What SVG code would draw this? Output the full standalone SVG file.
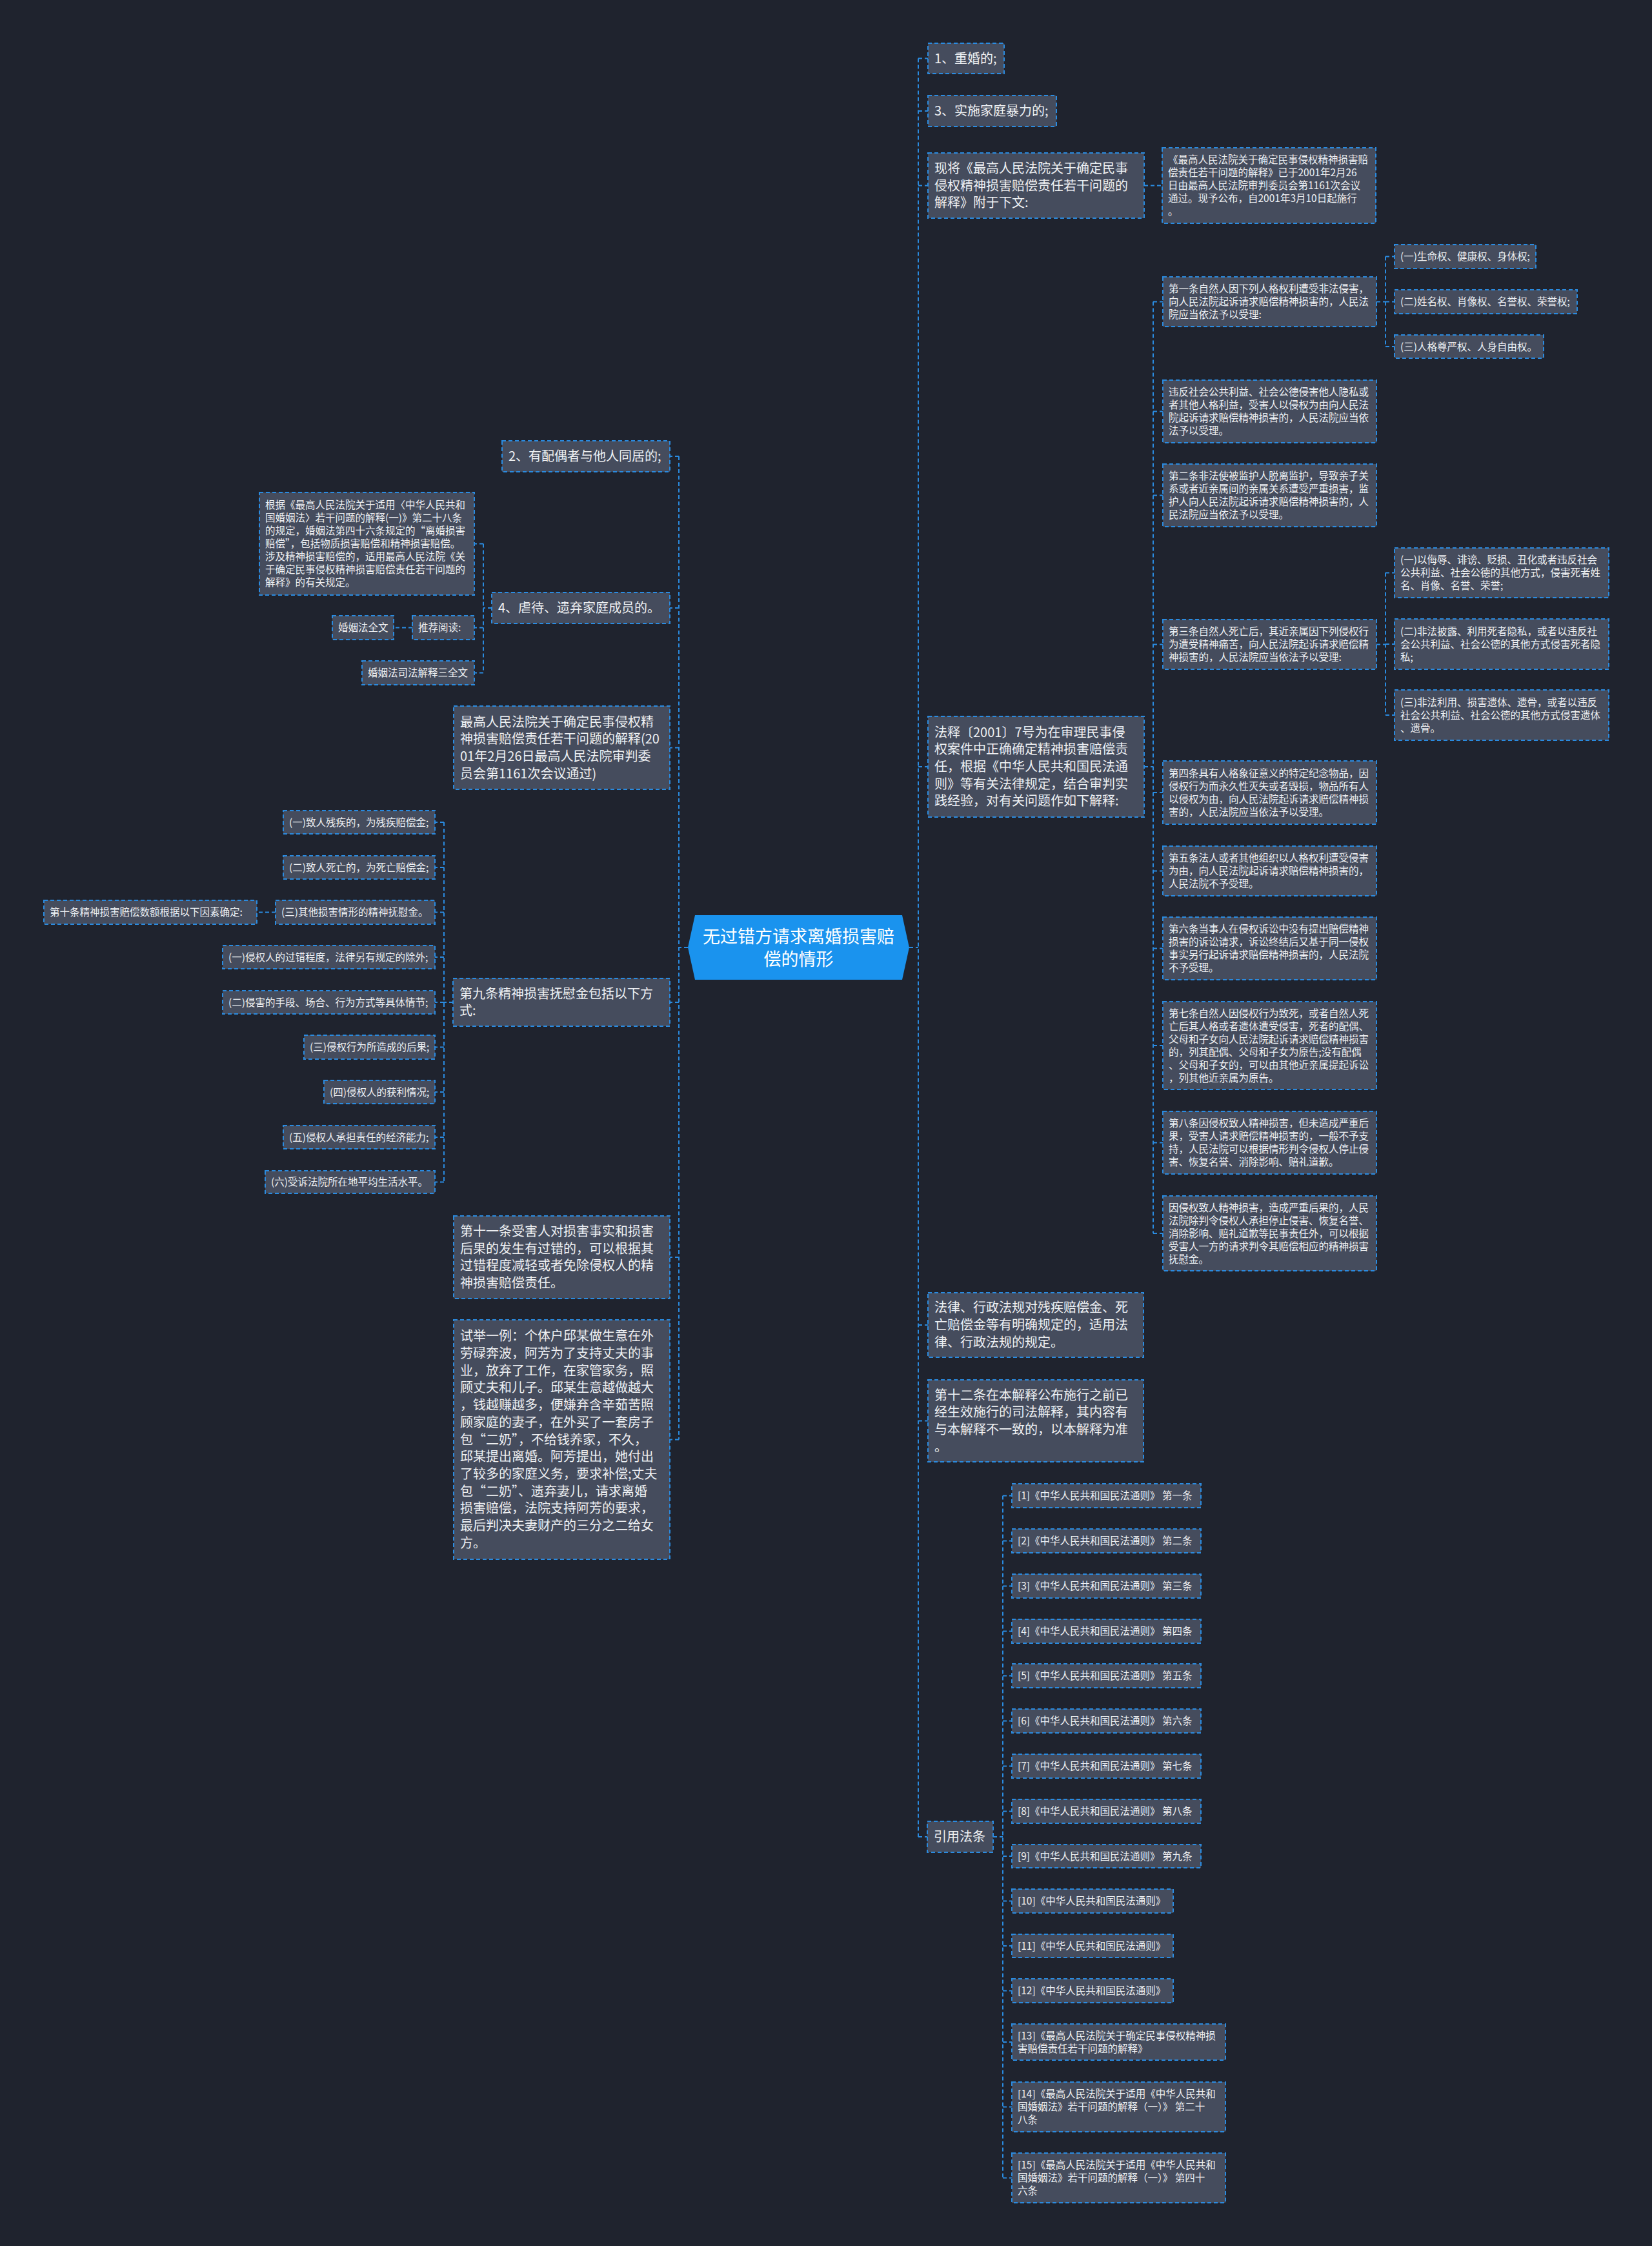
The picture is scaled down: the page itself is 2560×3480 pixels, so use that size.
<svg xmlns="http://www.w3.org/2000/svg" width="2560" height="3480" viewBox="0 0 2560 3480">
<style>
.bg{fill:#1f232e}
.n rect{fill:#454c5d;stroke:#2a8be0;stroke-width:2;stroke-dasharray:6 4}
.c path{fill:none;stroke:#2a8be0;stroke-width:2;stroke-dasharray:6 4}
text{font-family:"Noto Sans CJK SC","Noto Sans",sans-serif;fill:#eef0f3}
.m{font-size:20px}
.s{font-size:15.5px}
.t{font-size:27px;fill:#ffffff}
</style>
<rect class="bg" x="0" y="0" width="2560" height="3480"/>
<g id="connectors" class="c">
<path d="M1409 1468H1423M1423 90.5V2846M1423 90.5H1438M1423 172H1438M1423 287.5H1438M1423 1188H1438M1423 2053H1438M1423 2201.5H1438M1423 2846H1437"/>
<path d="M1773 287.5H1801"/>
<path d="M1773 1188H1787M1787 467.5V1911M1787 467.5H1802M1787 637.5H1802M1787 767.5H1802M1787 998.5H1802M1787 1228H1802M1787 1349.5H1802M1787 1469.5H1802M1787 1620H1802M1787 1770.5H1802M1787 1911H1802"/>
<path d="M2133 467.5H2147M2147 397.5V537M2147 397.5H2161M2147 467.5H2161M2147 537H2161"/>
<path d="M2133 998.5H2147M2147 887.5V1108M2147 887.5H2161M2147 998H2161M2147 1108H2161"/>
<path d="M1539 2846H1554M1554 2317.5V3374.5M1554 2317.5H1568M1554 2387.5H1568M1554 2457.5H1568M1554 2527.5H1568M1554 2596.5H1568M1554 2666.5H1568M1554 2736.5H1568M1554 2806.5H1568M1554 2876H1568M1554 2945.5H1568M1554 3015H1568M1554 3084.5H1568M1554 3164H1568M1554 3264.5H1568M1554 3374.5H1568"/>
<path d="M1066 1468H1052M1052 707V2230.5M1052 707H1038M1052 942H1038M1052 1158.5H1038M1052 1553H1038M1052 1948H1038M1052 2230.5H1038"/>
<path d="M762 942H749M749 842.5V1042.5M749 842.5H735M749 972.5H735M749 1042.5H735"/>
<path d="M639 972.5H610"/>
<path d="M702 1553H688M688 1274V1831.5M688 1274H674M688 1344H674M688 1413.5H674M688 1483H674M688 1553H674M688 1622.5H674M688 1692H674M688 1762H674M688 1831.5H674"/>
<path d="M427 1413.5H398"/>
</g>
<g id="center">
<polygon points="1066,1468 1077,1418 1398,1418 1409,1468 1398,1518 1077,1518" fill="#1a93ee"/>
<text class="t" text-anchor="middle"><tspan x="1237.5" y="1460.5">无过错方请求离婚损害赔</tspan><tspan x="1237.5" y="1495.5">偿的情形</tspan></text>
</g>
<g id="n-r1" class="n"><rect x="1438" y="67" width="118" height="47"/><text class="m"><tspan x="1448" y="97.5">1、重婚的;</tspan></text></g>
<g id="n-r3" class="n"><rect x="1438" y="148" width="199" height="48"/><text class="m"><tspan x="1448" y="179">3、实施家庭暴力的;</tspan></text></g>
<g id="n-xj" class="n"><rect x="1438" y="237" width="335" height="101"/><text class="m"><tspan x="1448" y="267.8">现将《最高人民法院关于确定民事</tspan><tspan x="1448" y="294.5">侵权精神损害赔偿责任若干问题的</tspan><tspan x="1448" y="321.2">解释》附于下文:</tspan></text></g>
<g id="n-xj1" class="n"><rect x="1801" y="229" width="331" height="117"/><text class="s"><tspan x="1810" y="253">《最高人民法院关于确定民事侵权精神损害赔</tspan><tspan x="1810" y="273">偿责任若干问题的解释》已于2001年2月26</tspan><tspan x="1810" y="293">日由最高人民法院审判委员会第1161次会议</tspan><tspan x="1810" y="313">通过。现予公布，自2001年3月10日起施行</tspan><tspan x="1810" y="333">。</tspan></text></g>
<g id="n-fs" class="n"><rect x="1438" y="1110" width="335" height="156"/><text class="m"><tspan x="1448" y="1141.6">法释〔2001〕7号为在审理民事侵</tspan><tspan x="1448" y="1168.3">权案件中正确确定精神损害赔偿责</tspan><tspan x="1448" y="1195">任，根据《中华人民共和国民法通</tspan><tspan x="1448" y="1221.7">则》等有关法律规定，结合审判实</tspan><tspan x="1448" y="1248.4">践经验，对有关问题作如下解释:</tspan></text></g>
<g id="n-a1" class="n"><rect x="1802" y="429" width="331" height="77"/><text class="s"><tspan x="1811" y="453">第一条自然人因下列人格权利遭受非法侵害，</tspan><tspan x="1811" y="473">向人民法院起诉请求赔偿精神损害的，人民法</tspan><tspan x="1811" y="493">院应当依法予以受理:</tspan></text></g>
<g id="n-a1-1" class="n"><rect x="2161" y="379" width="219" height="37"/><text class="s"><tspan x="2170" y="403">(一)生命权、健康权、身体权;</tspan></text></g>
<g id="n-a1-2" class="n"><rect x="2161" y="449" width="283" height="37"/><text class="s"><tspan x="2170" y="473">(二)姓名权、肖像权、名誉权、荣誉权;</tspan></text></g>
<g id="n-a1-3" class="n"><rect x="2161" y="519" width="231" height="36"/><text class="s"><tspan x="2170" y="542.5">(三)人格尊严权、人身自由权。</tspan></text></g>
<g id="n-wf" class="n"><rect x="1802" y="589" width="331" height="97"/><text class="s"><tspan x="1811" y="613">违反社会公共利益、社会公德侵害他人隐私或</tspan><tspan x="1811" y="633">者其他人格利益，受害人以侵权为由向人民法</tspan><tspan x="1811" y="653">院起诉请求赔偿精神损害的，人民法院应当依</tspan><tspan x="1811" y="673">法予以受理。</tspan></text></g>
<g id="n-a2" class="n"><rect x="1802" y="719" width="331" height="97"/><text class="s"><tspan x="1811" y="743">第二条非法使被监护人脱离监护，导致亲子关</tspan><tspan x="1811" y="763">系或者近亲属间的亲属关系遭受严重损害，监</tspan><tspan x="1811" y="783">护人向人民法院起诉请求赔偿精神损害的，人</tspan><tspan x="1811" y="803">民法院应当依法予以受理。</tspan></text></g>
<g id="n-a3" class="n"><rect x="1802" y="960" width="331" height="77"/><text class="s"><tspan x="1811" y="984">第三条自然人死亡后，其近亲属因下列侵权行</tspan><tspan x="1811" y="1004">为遭受精神痛苦，向人民法院起诉请求赔偿精</tspan><tspan x="1811" y="1024">神损害的，人民法院应当依法予以受理:</tspan></text></g>
<g id="n-a3-1" class="n"><rect x="2161" y="849" width="332" height="77"/><text class="s"><tspan x="2170" y="873">(一)以侮辱、诽谤、贬损、丑化或者违反社会</tspan><tspan x="2170" y="893">公共利益、社会公德的其他方式，侵害死者姓</tspan><tspan x="2170" y="913">名、肖像、名誉、荣誉;</tspan></text></g>
<g id="n-a3-2" class="n"><rect x="2161" y="959" width="332" height="78"/><text class="s"><tspan x="2170" y="983.5">(二)非法披露、利用死者隐私，或者以违反社</tspan><tspan x="2170" y="1003.5">会公共利益、社会公德的其他方式侵害死者隐</tspan><tspan x="2170" y="1023.5">私;</tspan></text></g>
<g id="n-a3-3" class="n"><rect x="2161" y="1069" width="332" height="78"/><text class="s"><tspan x="2170" y="1093.5">(三)非法利用、损害遗体、遗骨，或者以违反</tspan><tspan x="2170" y="1113.5">社会公共利益、社会公德的其他方式侵害遗体</tspan><tspan x="2170" y="1133.5">、遗骨。</tspan></text></g>
<g id="n-a4" class="n"><rect x="1802" y="1179" width="331" height="98"/><text class="s"><tspan x="1811" y="1203.5">第四条具有人格象征意义的特定纪念物品，因</tspan><tspan x="1811" y="1223.5">侵权行为而永久性灭失或者毁损，物品所有人</tspan><tspan x="1811" y="1243.5">以侵权为由，向人民法院起诉请求赔偿精神损</tspan><tspan x="1811" y="1263.5">害的，人民法院应当依法予以受理。</tspan></text></g>
<g id="n-a5" class="n"><rect x="1802" y="1311" width="331" height="77"/><text class="s"><tspan x="1811" y="1335">第五条法人或者其他组织以人格权利遭受侵害</tspan><tspan x="1811" y="1355">为由，向人民法院起诉请求赔偿精神损害的，</tspan><tspan x="1811" y="1375">人民法院不予受理。</tspan></text></g>
<g id="n-a6" class="n"><rect x="1802" y="1421" width="331" height="97"/><text class="s"><tspan x="1811" y="1445">第六条当事人在侵权诉讼中没有提出赔偿精神</tspan><tspan x="1811" y="1465">损害的诉讼请求，诉讼终结后又基于同一侵权</tspan><tspan x="1811" y="1485">事实另行起诉请求赔偿精神损害的，人民法院</tspan><tspan x="1811" y="1505">不予受理。</tspan></text></g>
<g id="n-a7" class="n"><rect x="1802" y="1552" width="331" height="136"/><text class="s"><tspan x="1811" y="1575.5">第七条自然人因侵权行为致死，或者自然人死</tspan><tspan x="1811" y="1595.5">亡后其人格或者遗体遭受侵害，死者的配偶、</tspan><tspan x="1811" y="1615.5">父母和子女向人民法院起诉请求赔偿精神损害</tspan><tspan x="1811" y="1635.5">的，列其配偶、父母和子女为原告;没有配偶</tspan><tspan x="1811" y="1655.5">、父母和子女的，可以由其他近亲属提起诉讼</tspan><tspan x="1811" y="1675.5">，列其他近亲属为原告。</tspan></text></g>
<g id="n-a8" class="n"><rect x="1802" y="1722" width="331" height="97"/><text class="s"><tspan x="1811" y="1746">第八条因侵权致人精神损害，但未造成严重后</tspan><tspan x="1811" y="1766">果，受害人请求赔偿精神损害的，一般不予支</tspan><tspan x="1811" y="1786">持，人民法院可以根据情形判令侵权人停止侵</tspan><tspan x="1811" y="1806">害、恢复名誉、消除影响、赔礼道歉。</tspan></text></g>
<g id="n-a8b" class="n"><rect x="1802" y="1853" width="331" height="116"/><text class="s"><tspan x="1811" y="1876.5">因侵权致人精神损害，造成严重后果的，人民</tspan><tspan x="1811" y="1896.5">法院除判令侵权人承担停止侵害、恢复名誉、</tspan><tspan x="1811" y="1916.5">消除影响、赔礼道歉等民事责任外，可以根据</tspan><tspan x="1811" y="1936.5">受害人一方的请求判令其赔偿相应的精神损害</tspan><tspan x="1811" y="1956.5">抚慰金。</tspan></text></g>
<g id="n-fl" class="n"><rect x="1438" y="2003" width="334" height="100"/><text class="m"><tspan x="1448" y="2033.3">法律、行政法规对残疾赔偿金、死</tspan><tspan x="1448" y="2060">亡赔偿金等有明确规定的，适用法</tspan><tspan x="1448" y="2086.7">律、行政法规的规定。</tspan></text></g>
<g id="n-a12" class="n"><rect x="1438" y="2138" width="334" height="127"/><text class="m"><tspan x="1448" y="2168.5">第十二条在本解释公布施行之前已</tspan><tspan x="1448" y="2195.2">经生效施行的司法解释，其内容有</tspan><tspan x="1448" y="2221.9">与本解释不一致的，以本解释为准</tspan><tspan x="1448" y="2248.6">。</tspan></text></g>
<g id="n-yy" class="n"><rect x="1437" y="2822" width="102" height="48"/><text class="m"><tspan x="1447" y="2853">引用法条</tspan></text></g>
<g id="ref1" class="n"><rect x="1568" y="2299" width="293" height="37"/><text class="s"><tspan x="1577" y="2323">[1]《中华人民共和国民法通则》 第一条</tspan></text></g>
<g id="ref2" class="n"><rect x="1568" y="2369" width="293" height="37"/><text class="s"><tspan x="1577" y="2393">[2]《中华人民共和国民法通则》 第二条</tspan></text></g>
<g id="ref3" class="n"><rect x="1568" y="2439" width="293" height="37"/><text class="s"><tspan x="1577" y="2463">[3]《中华人民共和国民法通则》 第三条</tspan></text></g>
<g id="ref4" class="n"><rect x="1568" y="2509" width="293" height="37"/><text class="s"><tspan x="1577" y="2533">[4]《中华人民共和国民法通则》 第四条</tspan></text></g>
<g id="ref5" class="n"><rect x="1568" y="2578" width="293" height="37"/><text class="s"><tspan x="1577" y="2602">[5]《中华人民共和国民法通则》 第五条</tspan></text></g>
<g id="ref6" class="n"><rect x="1568" y="2648" width="293" height="37"/><text class="s"><tspan x="1577" y="2672">[6]《中华人民共和国民法通则》 第六条</tspan></text></g>
<g id="ref7" class="n"><rect x="1568" y="2718" width="293" height="37"/><text class="s"><tspan x="1577" y="2742">[7]《中华人民共和国民法通则》 第七条</tspan></text></g>
<g id="ref8" class="n"><rect x="1568" y="2788" width="293" height="37"/><text class="s"><tspan x="1577" y="2812">[8]《中华人民共和国民法通则》 第八条</tspan></text></g>
<g id="ref9" class="n"><rect x="1568" y="2858" width="293" height="36"/><text class="s"><tspan x="1577" y="2881.5">[9]《中华人民共和国民法通则》 第九条</tspan></text></g>
<g id="ref10" class="n"><rect x="1568" y="2927" width="250" height="37"/><text class="s"><tspan x="1577" y="2951">[10]《中华人民共和国民法通则》</tspan></text></g>
<g id="ref11" class="n"><rect x="1568" y="2997" width="250" height="36"/><text class="s"><tspan x="1577" y="3020.5">[11]《中华人民共和国民法通则》</tspan></text></g>
<g id="ref12" class="n"><rect x="1568" y="3066" width="250" height="37"/><text class="s"><tspan x="1577" y="3090">[12]《中华人民共和国民法通则》</tspan></text></g>
<g id="ref13" class="n"><rect x="1568" y="3136" width="331" height="56"/><text class="s"><tspan x="1577" y="3159.5">[13]《最高人民法院关于确定民事侵权精神损</tspan><tspan x="1577" y="3179.5">害赔偿责任若干问题的解释》</tspan></text></g>
<g id="ref14" class="n"><rect x="1568" y="3226" width="331" height="77"/><text class="s"><tspan x="1577" y="3250">[14]《最高人民法院关于适用《中华人民共和</tspan><tspan x="1577" y="3270">国婚姻法》若干问题的解释（一）》 第二十</tspan><tspan x="1577" y="3290">八条</tspan></text></g>
<g id="ref15" class="n"><rect x="1568" y="3336" width="331" height="77"/><text class="s"><tspan x="1577" y="3360">[15]《最高人民法院关于适用《中华人民共和</tspan><tspan x="1577" y="3380">国婚姻法》若干问题的解释（一）》 第四十</tspan><tspan x="1577" y="3400">六条</tspan></text></g>
<g id="n-l2" class="n"><rect x="778" y="683" width="260" height="48"/><text class="m"><tspan x="788" y="714">2、有配偶者与他人同居的;</tspan></text></g>
<g id="n-l4" class="n"><rect x="762" y="918" width="276" height="48"/><text class="m"><tspan x="772" y="949">4、虐待、遗弃家庭成员的。</tspan></text></g>
<g id="n-gj" class="n"><rect x="402" y="763" width="333" height="159"/><text class="s"><tspan x="411" y="788">根据《最高人民法院关于适用〈中华人民共和</tspan><tspan x="411" y="808">国婚姻法〉若干问题的解释(一)》第二十八条</tspan><tspan x="411" y="828">的规定，婚姻法第四十六条规定的“离婚损害</tspan><tspan x="411" y="848">赔偿”，包括物质损害赔偿和精神损害赔偿。</tspan><tspan x="411" y="868">涉及精神损害赔偿的，适用最高人民法院《关</tspan><tspan x="411" y="888">于确定民事侵权精神损害赔偿责任若干问题的</tspan><tspan x="411" y="908">解释》的有关规定。</tspan></text></g>
<g id="n-tj" class="n"><rect x="639" y="954" width="96" height="37"/><text class="s"><tspan x="648" y="978">推荐阅读:</tspan></text></g>
<g id="n-hy" class="n"><rect x="515" y="954" width="95" height="37"/><text class="s"><tspan x="524" y="978">婚姻法全文</tspan></text></g>
<g id="n-hy3" class="n"><rect x="561" y="1024" width="174" height="37"/><text class="s"><tspan x="570" y="1048">婚姻法司法解释三全文</tspan></text></g>
<g id="n-zg" class="n"><rect x="703" y="1094" width="335" height="129"/><text class="m"><tspan x="713" y="1125.5">最高人民法院关于确定民事侵权精</tspan><tspan x="713" y="1152.2">神损害赔偿责任若干问题的解释(20</tspan><tspan x="713" y="1178.9">01年2月26日最高人民法院审判委</tspan><tspan x="713" y="1205.6">员会第1161次会议通过)</tspan></text></g>
<g id="n-a9" class="n"><rect x="702" y="1516" width="336" height="74"/><text class="m"><tspan x="712" y="1546.7">第九条精神损害抚慰金包括以下方</tspan><tspan x="712" y="1573.4">式:</tspan></text></g>
<g id="n-a9-1" class="n"><rect x="439" y="1256" width="235" height="36"/><text class="s"><tspan x="448" y="1279.5">(一)致人残疾的，为残疾赔偿金;</tspan></text></g>
<g id="n-a9-2" class="n"><rect x="439" y="1326" width="235" height="36"/><text class="s"><tspan x="448" y="1349.5">(二)致人死亡的，为死亡赔偿金;</tspan></text></g>
<g id="n-a9-3" class="n"><rect x="427" y="1395" width="247" height="37"/><text class="s"><tspan x="436" y="1419">(三)其他损害情形的精神抚慰金。</tspan></text></g>
<g id="n-a10" class="n"><rect x="68" y="1395" width="330" height="37"/><text class="s"><tspan x="77" y="1419">第十条精神损害赔偿数额根据以下因素确定:</tspan></text></g>
<g id="n-b1" class="n"><rect x="345" y="1465" width="329" height="36"/><text class="s"><tspan x="354" y="1488.5">(一)侵权人的过错程度，法律另有规定的除外;</tspan></text></g>
<g id="n-b2" class="n"><rect x="345" y="1535" width="329" height="36"/><text class="s"><tspan x="354" y="1558.5">(二)侵害的手段、场合、行为方式等具体情节;</tspan></text></g>
<g id="n-b3" class="n"><rect x="471" y="1604" width="203" height="37"/><text class="s"><tspan x="480" y="1628">(三)侵权行为所造成的后果;</tspan></text></g>
<g id="n-b4" class="n"><rect x="502" y="1674" width="172" height="36"/><text class="s"><tspan x="511" y="1697.5">(四)侵权人的获利情况;</tspan></text></g>
<g id="n-b5" class="n"><rect x="439" y="1744" width="235" height="36"/><text class="s"><tspan x="448" y="1767.5">(五)侵权人承担责任的经济能力;</tspan></text></g>
<g id="n-b6" class="n"><rect x="411" y="1814" width="263" height="35"/><text class="s"><tspan x="420" y="1837">(六)受诉法院所在地平均生活水平。</tspan></text></g>
<g id="n-a11" class="n"><rect x="703" y="1884" width="335" height="128"/><text class="m"><tspan x="713" y="1915">第十一条受害人对损害事实和损害</tspan><tspan x="713" y="1941.7">后果的发生有过错的，可以根据其</tspan><tspan x="713" y="1968.4">过错程度减轻或者免除侵权人的精</tspan><tspan x="713" y="1995.1">神损害赔偿责任。</tspan></text></g>
<g id="n-ex" class="n"><rect x="703" y="2045" width="335" height="371"/><text class="m"><tspan x="713" y="2077.3">试举一例：个体户邱某做生意在外</tspan><tspan x="713" y="2104">劳碌奔波，阿芳为了支持丈夫的事</tspan><tspan x="713" y="2130.7">业，放弃了工作，在家管家务，照</tspan><tspan x="713" y="2157.4">顾丈夫和儿子。邱某生意越做越大</tspan><tspan x="713" y="2184.1">，钱越赚越多，便嫌弃含辛茹苦照</tspan><tspan x="713" y="2210.8">顾家庭的妻子，在外买了一套房子</tspan><tspan x="713" y="2237.5">包“二奶”，不给钱养家，不久，</tspan><tspan x="713" y="2264.2">邱某提出离婚。阿芳提出，她付出</tspan><tspan x="713" y="2290.9">了较多的家庭义务，要求补偿;丈夫</tspan><tspan x="713" y="2317.6">包“二奶”、遗弃妻儿，请求离婚</tspan><tspan x="713" y="2344.3">损害赔偿，法院支持阿芳的要求，</tspan><tspan x="713" y="2371">最后判决夫妻财产的三分之二给女</tspan><tspan x="713" y="2397.7">方。</tspan></text></g>
</svg>
